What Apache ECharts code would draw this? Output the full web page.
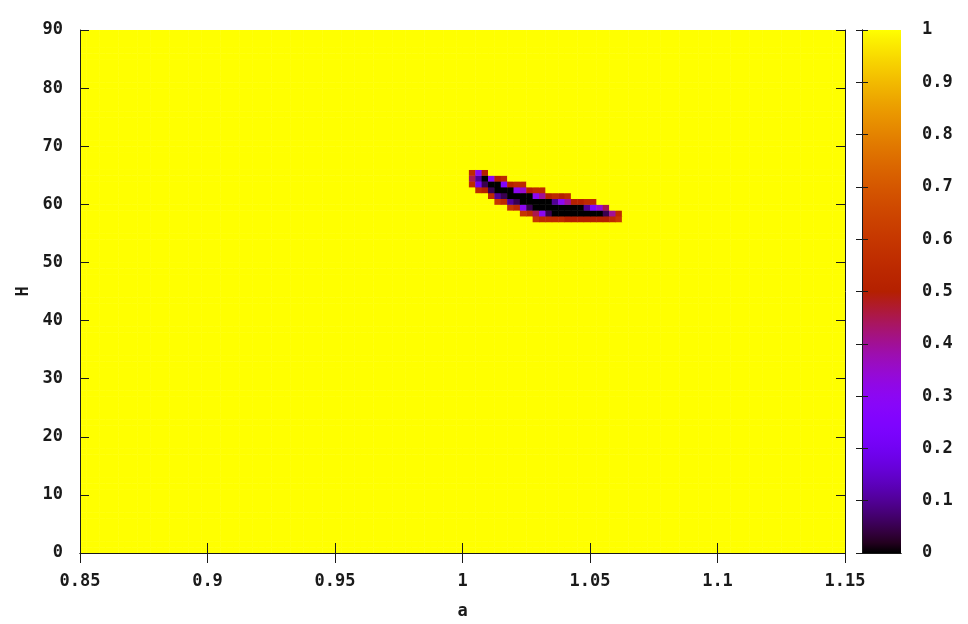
<!DOCTYPE html>
<html>
<head>
<meta charset="utf-8">
<script src="https://cdn.jsdelivr.net/npm/echarts@6/dist/echarts.min.js"></script>
<style>
html, body { margin: 0; background: #fff; }
#chart { width: 968px; height: 624px; }
</style>
</head>
<body>
<div id="chart"></div>
<script>
// map grid: a along x, H along y
var aMin = 0.85, aMax = 1.15, aStep = 0.0025;
var hMin = 0, hMax = 90, hStep = 1;
var fillValue = 1; // the whole plane reads 1 outside the dark band

// tick steps
var aTick = 0.05, hTick = 10, cbTick = 0.1;
var cbMin = 0, cbMax = 1;

// the dark band, column by column (a of the column, H of its lowest cell, values bottom -> top)
var bandColA = [1.0025, 1.005, 1.0075, 1.01, 1.0125, 1.015, 1.0175, 1.02, 1.0225, 1.025, 1.0275, 1.03,
    1.0325, 1.035, 1.0375, 1.04, 1.0425, 1.045, 1.0475, 1.05, 1.0525, 1.055, 1.0575, 1.06];
var bandColBottomH = [63, 62, 62, 61, 60, 60, 59, 59, 58, 58, 57, 57, 57, 57, 57, 57, 57, 57, 57, 57, 57, 57, 57, 57];
var bandColVals = [
    [0.55, 0.45, 0.55],
    [0.55, 0.2, 0.1, 0.3],
    [0.5, 0.05, 0.0, 0.5],
    [0.55, 0.05, 0.0, 0.3],
    [0.6, 0.1, 0.0, 0.0, 0.5],
    [0.55, 0.05, 0.0, 0.25, 0.55],
    [0.6, 0.1, 0.0, 0.0, 0.5],
    [0.55, 0.05, 0.0, 0.3, 0.55],
    [0.6, 0.3, 0.0, 0.0, 0.35, 0.55],
    [0.55, 0.05, 0.0, 0.0, 0.5],
    [0.6, 0.45, 0.0, 0.0, 0.3, 0.55],
    [0.55, 0.3, 0.0, 0.0, 0.4, 0.55],
    [0.55, 0.05, 0.0, 0.0, 0.5],
    [0.55, 0.0, 0.0, 0.1, 0.55],
    [0.55, 0.0, 0.0, 0.3, 0.5],
    [0.5, 0.0, 0.0, 0.4, 0.55],
    [0.5, 0.0, 0.0, 0.5],
    [0.5, 0.0, 0.0, 0.5],
    [0.5, 0.0, 0.1, 0.55],
    [0.5, 0.0, 0.25, 0.55],
    [0.5, 0.0, 0.35],
    [0.5, 0.05, 0.45],
    [0.55, 0.4],
    [0.6, 0.55]
];

// gnuplot default palette (rgbformulae 7,5,15)
function palette(x) {
    var r = Math.sqrt(x), g = x * x * x, b = Math.sin(2 * Math.PI * x);
    if (b < 0) b = 0;
    return 'rgb(' + Math.round(r * 255) + ',' + Math.round(g * 255) + ',' + Math.round(b * 255) + ')';
}

var nA = Math.round((aMax - aMin) / aStep);
var nH = Math.round((hMax - hMin) / hStep);
var table = [];
for (var j = 0; j < nH; j++) {
    var row = [];
    for (var i = 0; i < nA; i++) row.push(fillValue);
    table.push(row);
}
for (var k = 0; k < bandColA.length; k++) {
    var ii = Math.round((bandColA[k] - aMin) / aStep);
    var j0 = Math.round((bandColBottomH[k] - hMin) / hStep);
    for (var m = 0; m < bandColVals[k].length; m++) table[j0 + m][ii] = bandColVals[k][m];
}
var cells = [];
for (var j = 0; j < nH; j++) {
    for (var i = 0; i < nA; i++) {
        cells.push([aMin + i * aStep, hMin + j * hStep, table[j][i]]);
    }
}

var stops = [];
for (var s = 0; s <= 50; s++) stops.push({ offset: s / 50, color: palette(s / 50) });

var font = { fontFamily: 'DejaVu Sans Mono', fontWeight: 'bold', fontSize: 17, color: '#1a1a1a' };
var line = { show: true, lineStyle: { color: '#1a1a1a', width: 1 } };

var myChart = echarts.init(document.getElementById('chart'));
var option = {
    animation: false,
    backgroundColor: '#fff',
    grid: [
        { left: 80, right: 123, top: 30, bottom: 71, outerBoundsMode: 'none', containLabel: false },
        { left: 862, width: 39, top: 30, bottom: 71, outerBoundsMode: 'none', containLabel: false }
    ],
    xAxis: [
        {
            gridIndex: 0, type: 'value', min: aMin, max: aMax, interval: aTick, position: 'bottom', z: 5,
            axisLine: line, axisTick: { inside: true, length: 10, lineStyle: { color: '#1a1a1a' } },
            axisLabel: Object.assign({ margin: 20 }, font), splitLine: { show: false },
            name: 'a', nameLocation: 'middle', nameGap: 50, nameTextStyle: font
        },
        {
            gridIndex: 0, type: 'value', min: aMin, max: aMax, interval: aTick, position: 'top', z: 5,
            axisLine: line, axisTick: { inside: true, length: 10, lineStyle: { color: '#1a1a1a' } },
            axisLabel: { show: false }, splitLine: { show: false }
        },
        {
            gridIndex: 1, type: 'value', min: 0, max: 1, position: 'bottom', z: 5,
            axisLine: line, axisTick: { show: false }, axisLabel: { show: false }, splitLine: { show: false }
        },
        {
            gridIndex: 1, type: 'value', min: 0, max: 1, position: 'top', z: 5,
            axisLine: line, axisTick: { show: false }, axisLabel: { show: false }, splitLine: { show: false }
        }
    ],
    yAxis: [
        {
            gridIndex: 0, type: 'value', min: hMin, max: hMax, interval: hTick, position: 'left', z: 5,
            axisLine: line, axisTick: { inside: true, length: 9, lineStyle: { color: '#1a1a1a' } },
            axisLabel: Object.assign({ margin: 17 }, font), splitLine: { show: false },
            name: 'H', nameLocation: 'middle', nameGap: 42, nameRotate: 90, nameTextStyle: font
        },
        {
            gridIndex: 0, type: 'value', min: hMin, max: hMax, interval: hTick, position: 'right', z: 5,
            axisLine: line, axisTick: { inside: true, length: 9, lineStyle: { color: '#1a1a1a' } },
            axisLabel: { show: false }, splitLine: { show: false }
        },
        {
            gridIndex: 1, type: 'value', min: cbMin, max: cbMax, interval: cbTick, position: 'right', z: 5,
            axisLine: line, axisTick: { inside: true, length: 6, lineStyle: { color: '#1a1a1a' } },
            axisLabel: Object.assign({ margin: 21 }, font), splitLine: { show: false }
        },
        {
            gridIndex: 1, type: 'value', min: cbMin, max: cbMax, interval: cbTick, position: 'left', z: 5,
            axisLine: line, axisTick: { inside: true, length: 6, lineStyle: { color: '#1a1a1a' } },
            axisLabel: { show: false }, splitLine: { show: false }
        }
    ],
    series: [
        {
            type: 'custom',
            xAxisIndex: 0, yAxisIndex: 0, z: 1,
            data: cells,
            encode: { x: 0, y: 1 },
            renderItem: function (params, api) {
                var a = api.value(0), h = api.value(1), v = api.value(2);
                var p0 = api.coord([a, h + hStep]);
                var p1 = api.coord([a + aStep, h]);
                return {
                    type: 'rect',
                    shape: { x: p0[0], y: p0[1], width: p1[0] - p0[0] + 0.5, height: p1[1] - p0[1] + 0.5 },
                    style: { fill: palette(v) }
                };
            }
        },
        {
            type: 'custom',
            xAxisIndex: 2, yAxisIndex: 2, z: 1,
            data: [[0, cbMin, 1, cbMax]],
            renderItem: function (params, api) {
                var p0 = api.coord([api.value(0), api.value(3)]);
                var p1 = api.coord([api.value(2), api.value(1)]);
                return {
                    type: 'rect',
                    shape: { x: p0[0], y: p0[1], width: p1[0] - p0[0], height: p1[1] - p0[1] },
                    style: { fill: new echarts.graphic.LinearGradient(0, 1, 0, 0, stops) }
                };
            }
        }
    ]
};
myChart.setOption(option);
</script>
</body>
</html>
